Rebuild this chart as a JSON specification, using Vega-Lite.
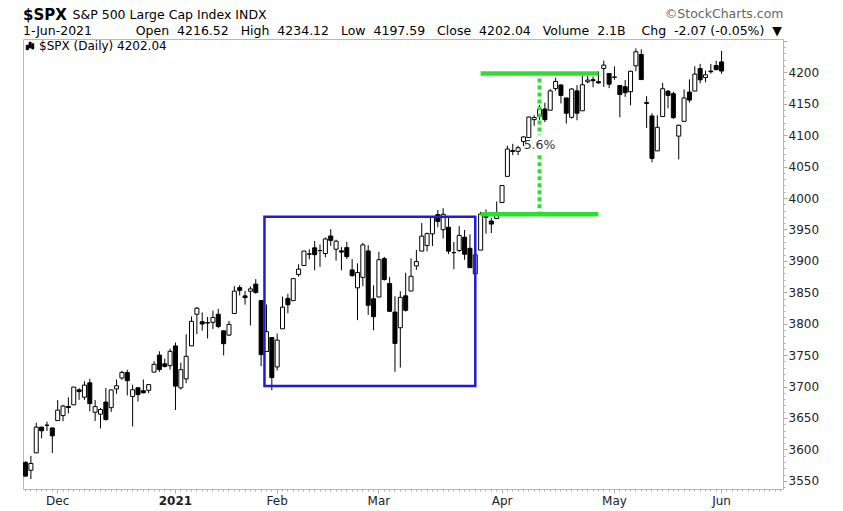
{
  "$schema": "https://vega.github.io/schema/vega-lite/v6.json",
  "width": 760,
  "height": 450,
  "autosize": {"type": "none"},
  "padding": {"left": 23, "top": 39, "right": 60, "bottom": 22},
  "background": "white",
  "title": {
    "text": "$SPX",
    "subtitle": "1-Jun-2021\u00a0\u00a0\u00a0\u00a0\u00a0\u00a0\u00a0\u00a0\u00a0\u00a0\u00a0Open\u00a0\u00a04216.52\u00a0\u00a0\u00a0High\u00a0\u00a04234.12\u00a0\u00a0\u00a0Low\u00a0\u00a04197.59\u00a0\u00a0\u00a0Close\u00a0\u00a04202.04\u00a0\u00a0\u00a0Volume\u00a0\u00a02.1B\u00a0\u00a0\u00a0\u00a0Chg\u00a0\u00a0-2.07 (-0.05%)\u00a0\u00a0▼",
    "anchor": "start",
    "frame": "group",
    "font": "DejaVu Sans",
    "fontSize": 15,
    "fontWeight": "bold",
    "color": "#000",
    "subtitleFont": "DejaVu Sans",
    "subtitleFontSize": 12.5,
    "subtitleColor": "#000",
    "subtitlePadding": 2,
    "offset": 2,
    "dy": 32
  },
  "config": {
    "view": {"stroke": "#b8b8b8", "strokeWidth": 1},
    "axis": {"grid": false, "domain": false, "labelOverlap": false}
  },
  "datasets": {
    "candles": [
      {"d":"2020-11-20","o":3579.31,"h":3581.23,"l":3556.85,"c":3557.54},
      {"d":"2020-11-23","o":3566.82,"h":3589.81,"l":3552.77,"c":3577.59},
      {"d":"2020-11-24","o":3594.52,"h":3642.31,"l":3594.52,"c":3635.41},
      {"d":"2020-11-25","o":3635.50,"h":3635.50,"l":3617.76,"c":3629.65},
      {"d":"2020-11-27","o":3638.55,"h":3644.31,"l":3629.33,"c":3638.35},
      {"d":"2020-11-30","o":3634.18,"h":3634.18,"l":3594.39,"c":3621.63},
      {"d":"2020-12-01","o":3645.87,"h":3678.45,"l":3645.87,"c":3662.45},
      {"d":"2020-12-02","o":3653.78,"h":3670.96,"l":3644.84,"c":3669.01},
      {"d":"2020-12-03","o":3668.28,"h":3682.73,"l":3657.17,"c":3666.72},
      {"d":"2020-12-04","o":3670.94,"h":3699.20,"l":3670.94,"c":3699.12},
      {"d":"2020-12-07","o":3694.73,"h":3697.41,"l":3678.88,"c":3691.96},
      {"d":"2020-12-08","o":3683.05,"h":3708.45,"l":3678.83,"c":3702.25},
      {"d":"2020-12-09","o":3705.98,"h":3712.39,"l":3660.54,"c":3672.82},
      {"d":"2020-12-10","o":3659.13,"h":3678.49,"l":3645.18,"c":3668.10},
      {"d":"2020-12-11","o":3656.08,"h":3665.91,"l":3633.40,"c":3663.46},
      {"d":"2020-12-14","o":3675.27,"h":3697.61,"l":3645.84,"c":3647.49},
      {"d":"2020-12-15","o":3666.41,"h":3695.29,"l":3659.62,"c":3694.62},
      {"d":"2020-12-16","o":3696.25,"h":3711.27,"l":3688.57,"c":3701.17},
      {"d":"2020-12-17","o":3713.65,"h":3725.12,"l":3710.87,"c":3722.48},
      {"d":"2020-12-18","o":3722.39,"h":3726.70,"l":3685.84,"c":3709.41},
      {"d":"2020-12-21","o":3684.28,"h":3702.90,"l":3636.48,"c":3694.92},
      {"d":"2020-12-22","o":3698.08,"h":3698.26,"l":3676.16,"c":3687.26},
      {"d":"2020-12-23","o":3693.42,"h":3711.24,"l":3689.28,"c":3690.01},
      {"d":"2020-12-24","o":3694.03,"h":3703.82,"l":3689.32,"c":3703.06},
      {"d":"2020-12-28","o":3723.03,"h":3740.51,"l":3723.03,"c":3735.36},
      {"d":"2020-12-29","o":3750.01,"h":3756.12,"l":3723.31,"c":3727.04},
      {"d":"2020-12-30","o":3736.19,"h":3744.63,"l":3730.21,"c":3732.04},
      {"d":"2020-12-31","o":3733.27,"h":3760.20,"l":3726.88,"c":3756.07},
      {"d":"2021-01-04","o":3764.61,"h":3769.99,"l":3662.71,"c":3700.65},
      {"d":"2021-01-05","o":3698.02,"h":3737.83,"l":3695.07,"c":3726.86},
      {"d":"2021-01-06","o":3712.20,"h":3783.04,"l":3705.34,"c":3748.14},
      {"d":"2021-01-07","o":3764.71,"h":3811.55,"l":3764.71,"c":3803.79},
      {"d":"2021-01-08","o":3815.05,"h":3826.69,"l":3783.60,"c":3824.68},
      {"d":"2021-01-11","o":3803.14,"h":3817.86,"l":3789.02,"c":3799.61},
      {"d":"2021-01-12","o":3801.62,"h":3810.78,"l":3776.51,"c":3801.19},
      {"d":"2021-01-13","o":3802.23,"h":3820.96,"l":3791.50,"c":3809.84},
      {"d":"2021-01-14","o":3814.98,"h":3823.60,"l":3792.86,"c":3795.54},
      {"d":"2021-01-15","o":3788.73,"h":3788.73,"l":3749.62,"c":3768.25},
      {"d":"2021-01-19","o":3781.88,"h":3804.53,"l":3780.37,"c":3798.91},
      {"d":"2021-01-20","o":3816.22,"h":3859.75,"l":3816.22,"c":3851.85},
      {"d":"2021-01-21","o":3857.46,"h":3861.45,"l":3845.05,"c":3853.07},
      {"d":"2021-01-22","o":3844.24,"h":3852.31,"l":3830.41,"c":3841.47},
      {"d":"2021-01-25","o":3851.68,"h":3859.23,"l":3797.16,"c":3855.36},
      {"d":"2021-01-26","o":3862.96,"h":3870.90,"l":3847.78,"c":3849.62},
      {"d":"2021-01-27","o":3836.83,"h":3836.83,"l":3732.48,"c":3750.77},
      {"d":"2021-01-28","o":3755.75,"h":3830.50,"l":3755.75,"c":3787.38},
      {"d":"2021-01-29","o":3778.05,"h":3778.05,"l":3694.12,"c":3714.24},
      {"d":"2021-02-01","o":3731.17,"h":3784.32,"l":3725.62,"c":3773.86},
      {"d":"2021-02-02","o":3791.84,"h":3843.09,"l":3791.84,"c":3826.31},
      {"d":"2021-02-03","o":3840.27,"h":3847.51,"l":3816.68,"c":3830.17},
      {"d":"2021-02-04","o":3836.66,"h":3872.42,"l":3836.66,"c":3871.74},
      {"d":"2021-02-05","o":3878.30,"h":3894.56,"l":3874.93,"c":3886.83},
      {"d":"2021-02-08","o":3892.59,"h":3915.77,"l":3892.59,"c":3915.59},
      {"d":"2021-02-09","o":3910.49,"h":3918.35,"l":3902.64,"c":3911.23},
      {"d":"2021-02-10","o":3920.78,"h":3931.50,"l":3884.94,"c":3909.88},
      {"d":"2021-02-11","o":3916.40,"h":3925.99,"l":3890.39,"c":3916.38},
      {"d":"2021-02-12","o":3911.65,"h":3937.23,"l":3905.78,"c":3934.83},
      {"d":"2021-02-16","o":3939.61,"h":3950.43,"l":3923.85,"c":3932.59},
      {"d":"2021-02-17","o":3918.50,"h":3933.61,"l":3900.43,"c":3931.33},
      {"d":"2021-02-18","o":3915.86,"h":3921.98,"l":3885.03,"c":3913.97},
      {"d":"2021-02-19","o":3921.16,"h":3930.41,"l":3903.07,"c":3906.71},
      {"d":"2021-02-22","o":3885.55,"h":3902.92,"l":3874.71,"c":3876.50},
      {"d":"2021-02-23","o":3857.07,"h":3895.98,"l":3805.59,"c":3881.37},
      {"d":"2021-02-24","o":3873.71,"h":3928.65,"l":3859.60,"c":3925.43},
      {"d":"2021-02-25","o":3915.80,"h":3925.02,"l":3814.04,"c":3829.34},
      {"d":"2021-02-26","o":3839.66,"h":3861.08,"l":3789.54,"c":3811.15},
      {"d":"2021-03-01","o":3842.51,"h":3914.50,"l":3842.51,"c":3901.82},
      {"d":"2021-03-02","o":3903.64,"h":3906.41,"l":3868.57,"c":3870.29},
      {"d":"2021-03-03","o":3863.99,"h":3874.47,"l":3818.86,"c":3819.72},
      {"d":"2021-03-04","o":3818.53,"h":3843.67,"l":3723.34,"c":3768.47},
      {"d":"2021-03-05","o":3793.58,"h":3851.69,"l":3730.19,"c":3841.94},
      {"d":"2021-03-08","o":3844.39,"h":3881.06,"l":3819.25,"c":3821.35},
      {"d":"2021-03-09","o":3851.93,"h":3903.76,"l":3851.93,"c":3875.44},
      {"d":"2021-03-10","o":3891.99,"h":3917.35,"l":3885.73,"c":3898.81},
      {"d":"2021-03-11","o":3915.54,"h":3960.27,"l":3915.54,"c":3939.34},
      {"d":"2021-03-12","o":3924.52,"h":3944.99,"l":3915.21,"c":3943.34},
      {"d":"2021-03-15","o":3942.96,"h":3970.08,"l":3923.54,"c":3968.94},
      {"d":"2021-03-16","o":3973.59,"h":3981.04,"l":3953.44,"c":3962.71},
      {"d":"2021-03-17","o":3949.57,"h":3983.87,"l":3935.74,"c":3974.12},
      {"d":"2021-03-18","o":3953.50,"h":3969.62,"l":3910.86,"c":3915.46},
      {"d":"2021-03-19","o":3913.14,"h":3930.12,"l":3886.75,"c":3913.10},
      {"d":"2021-03-22","o":3916.48,"h":3955.31,"l":3914.16,"c":3940.59},
      {"d":"2021-03-23","o":3937.60,"h":3949.13,"l":3901.78,"c":3910.52},
      {"d":"2021-03-24","o":3919.93,"h":3942.08,"l":3889.07,"c":3889.14},
      {"d":"2021-03-25","o":3879.34,"h":3919.54,"l":3853.50,"c":3909.52},
      {"d":"2021-03-26","o":3917.12,"h":3978.19,"l":3917.12,"c":3974.54},
      {"d":"2021-03-29","o":3969.31,"h":3981.83,"l":3943.25,"c":3971.09},
      {"d":"2021-03-30","o":3963.34,"h":3968.01,"l":3944.35,"c":3958.55},
      {"d":"2021-03-31","o":3967.25,"h":3994.41,"l":3966.98,"c":3972.89},
      {"d":"2021-04-01","o":3992.78,"h":4020.63,"l":3992.78,"c":4019.87},
      {"d":"2021-04-05","o":4034.44,"h":4083.42,"l":4034.44,"c":4077.91},
      {"d":"2021-04-06","o":4075.57,"h":4086.23,"l":4068.14,"c":4073.94},
      {"d":"2021-04-07","o":4074.29,"h":4083.13,"l":4068.31,"c":4079.95},
      {"d":"2021-04-08","o":4089.95,"h":4098.19,"l":4082.54,"c":4097.17},
      {"d":"2021-04-09","o":4096.11,"h":4129.48,"l":4095.51,"c":4128.80},
      {"d":"2021-04-12","o":4124.71,"h":4131.76,"l":4114.82,"c":4127.99},
      {"d":"2021-04-13","o":4130.10,"h":4148.00,"l":4124.43,"c":4141.59},
      {"d":"2021-04-14","o":4141.58,"h":4151.69,"l":4120.87,"c":4124.66},
      {"d":"2021-04-15","o":4139.76,"h":4173.49,"l":4139.76,"c":4170.42},
      {"d":"2021-04-16","o":4174.14,"h":4191.31,"l":4170.75,"c":4185.47},
      {"d":"2021-04-19","o":4179.80,"h":4180.81,"l":4150.47,"c":4163.26},
      {"d":"2021-04-20","o":4159.18,"h":4159.18,"l":4118.38,"c":4134.94},
      {"d":"2021-04-21","o":4128.42,"h":4175.02,"l":4126.35,"c":4173.42},
      {"d":"2021-04-22","o":4170.46,"h":4179.57,"l":4123.69,"c":4134.98},
      {"d":"2021-04-23","o":4138.78,"h":4194.17,"l":4138.78,"c":4180.17},
      {"d":"2021-04-26","o":4185.03,"h":4194.19,"l":4182.36,"c":4187.62},
      {"d":"2021-04-27","o":4188.25,"h":4193.35,"l":4176.22,"c":4186.72},
      {"d":"2021-04-28","o":4185.14,"h":4201.53,"l":4181.78,"c":4183.18},
      {"d":"2021-04-29","o":4206.14,"h":4218.78,"l":4176.81,"c":4211.47},
      {"d":"2021-04-30","o":4198.10,"h":4198.10,"l":4174.85,"c":4181.17},
      {"d":"2021-05-03","o":4191.98,"h":4209.39,"l":4188.03,"c":4192.66},
      {"d":"2021-05-04","o":4179.04,"h":4179.04,"l":4128.59,"c":4164.66},
      {"d":"2021-05-05","o":4177.06,"h":4187.72,"l":4160.94,"c":4167.59},
      {"d":"2021-05-06","o":4169.14,"h":4202.70,"l":4147.33,"c":4201.62},
      {"d":"2021-05-07","o":4210.34,"h":4238.04,"l":4201.64,"c":4232.60},
      {"d":"2021-05-10","o":4228.29,"h":4236.39,"l":4188.13,"c":4188.43},
      {"d":"2021-05-11","o":4150.34,"h":4162.04,"l":4111.53,"c":4152.10},
      {"d":"2021-05-12","o":4130.55,"h":4134.73,"l":4056.88,"c":4063.04},
      {"d":"2021-05-13","o":4074.99,"h":4131.58,"l":4074.99,"c":4112.50},
      {"d":"2021-05-14","o":4129.58,"h":4183.13,"l":4129.58,"c":4173.85},
      {"d":"2021-05-17","o":4169.92,"h":4171.92,"l":4142.69,"c":4163.29},
      {"d":"2021-05-18","o":4165.94,"h":4169.15,"l":4125.99,"c":4127.83},
      {"d":"2021-05-19","o":4098.45,"h":4116.93,"l":4061.41,"c":4115.68},
      {"d":"2021-05-20","o":4121.97,"h":4172.80,"l":4121.97,"c":4159.12},
      {"d":"2021-05-21","o":4168.61,"h":4188.72,"l":4151.72,"c":4155.86},
      {"d":"2021-05-24","o":4170.16,"h":4209.52,"l":4170.16,"c":4197.05},
      {"d":"2021-05-25","o":4205.94,"h":4213.42,"l":4182.52,"c":4188.13},
      {"d":"2021-05-26","o":4191.59,"h":4202.61,"l":4184.11,"c":4195.99},
      {"d":"2021-05-27","o":4201.94,"h":4213.38,"l":4197.78,"c":4200.88},
      {"d":"2021-05-28","o":4210.77,"h":4218.36,"l":4203.57,"c":4204.11},
      {"d":"2021-06-01","o":4216.52,"h":4234.12,"l":4197.59,"c":4202.04}
    ]
  },
  "layer": [
    {
      "data": {"name": "candles"},
      "mark": {"type": "rule", "strokeWidth": 1},
      "encoding": {
        "x": {
          "field": "d",
          "type": "ordinal",
          "scale": {
            "type": "band",
            "paddingInner": 0.25,
            "paddingOuter": 0.1,
            "domain": ["2020-11-20","2020-11-23","2020-11-24","2020-11-25","2020-11-27","2020-11-30",
              "2020-12-01","2020-12-02","2020-12-03","2020-12-04","2020-12-07","2020-12-08","2020-12-09","2020-12-10","2020-12-11","2020-12-14","2020-12-15","2020-12-16","2020-12-17","2020-12-18","2020-12-21","2020-12-22","2020-12-23","2020-12-24","2020-12-28","2020-12-29","2020-12-30","2020-12-31",
              "2021-01-04","2021-01-05","2021-01-06","2021-01-07","2021-01-08","2021-01-11","2021-01-12","2021-01-13","2021-01-14","2021-01-15","2021-01-19","2021-01-20","2021-01-21","2021-01-22","2021-01-25","2021-01-26","2021-01-27","2021-01-28","2021-01-29",
              "2021-02-01","2021-02-02","2021-02-03","2021-02-04","2021-02-05","2021-02-08","2021-02-09","2021-02-10","2021-02-11","2021-02-12","2021-02-16","2021-02-17","2021-02-18","2021-02-19","2021-02-22","2021-02-23","2021-02-24","2021-02-25","2021-02-26",
              "2021-03-01","2021-03-02","2021-03-03","2021-03-04","2021-03-05","2021-03-08","2021-03-09","2021-03-10","2021-03-11","2021-03-12","2021-03-15","2021-03-16","2021-03-17","2021-03-18","2021-03-19","2021-03-22","2021-03-23","2021-03-24","2021-03-25","2021-03-26","2021-03-29","2021-03-30","2021-03-31",
              "2021-04-01","2021-04-05","2021-04-06","2021-04-07","2021-04-08","2021-04-09","2021-04-12","2021-04-13","2021-04-14","2021-04-15","2021-04-16","2021-04-19","2021-04-20","2021-04-21","2021-04-22","2021-04-23","2021-04-26","2021-04-27","2021-04-28","2021-04-29","2021-04-30",
              "2021-05-03","2021-05-04","2021-05-05","2021-05-06","2021-05-07","2021-05-10","2021-05-11","2021-05-12","2021-05-13","2021-05-14","2021-05-17","2021-05-18","2021-05-19","2021-05-20","2021-05-21","2021-05-24","2021-05-25","2021-05-26","2021-05-27","2021-05-28",
              "2021-06-01","2021-06-02","2021-06-03","2021-06-04","2021-06-07","2021-06-08","2021-06-09","2021-06-10","2021-06-11","2021-06-14","2021-06-15","2021-06-16"]
          },
          "axis": {
            "title": "S&P 500 Large Cap Index INDX",
            "titleX": 49,
            "titleY": -471,
            "titleAlign": "left",
            "titleBaseline": "alphabetic",
            "titleAngle": 0,
            "titleFont": "DejaVu Sans",
            "titleFontSize": 12.5,
            "titleFontWeight": "normal",
            "titleColor": "#000",
            "labelExpr": "datum.value == '2020-12-01' ? 'Dec' : datum.value == '2021-01-04' ? '2021' : datum.value == '2021-02-01' ? 'Feb' : datum.value == '2021-03-01' ? 'Mar' : datum.value == '2021-04-01' ? 'Apr' : datum.value == '2021-05-03' ? 'May' : datum.value == '2021-06-01' ? 'Jun' : ''",
            "labelAngle": 0,
            "labelOverlap": false,
            "labelFlush": false,
            "labelFont": "DejaVu Sans",
            "labelFontSize": 12,
            "labelColor": "#222",
            "labelPadding": 2,
            "labelFontWeight": {"condition": {"test": "datum.value == '2021-01-04'", "value": "bold"}, "value": "normal"},
            "tickSize": {"condition": {"test": "indexof(['2020-12-01','2021-01-04','2021-02-01','2021-03-01','2021-04-01','2021-05-03','2021-06-01'], datum.value) >= 0", "value": 4}, "value": 2},
            "tickColor": "#aaa",
            "domain": false,
            "grid": false
          }
        },
        "y": {
          "field": "l",
          "type": "quantitative",
          "scale": {"domain": [3537, 4253], "nice": false, "zero": false},
          "axis": {
            "orient": "right",
            "values": [3540,3550,3560,3570,3580,3590,3600,3610,3620,3630,3640,3650,3660,3670,3680,3690,3700,3710,3720,3730,3740,3750,3760,3770,3780,3790,3800,3810,3820,3830,3840,3850,3860,3870,3880,3890,3900,3910,3920,3930,3940,3950,3960,3970,3980,3990,4000,4010,4020,4030,4040,4050,4060,4070,4080,4090,4100,4110,4120,4130,4140,4150,4160,4170,4180,4190,4200,4210,4220,4230,4240,4250],
            "tickCount": 500,
            "labelExpr": "(datum.value % 50 == 0 && datum.value <= 4200) ? format(datum.value, 'd') : ''",
            "labelOverlap": false,
            "labelFont": "DejaVu Sans",
            "labelFontSize": 12,
            "labelColor": "#222",
            "labelPadding": 1,
            "tickSize": {"condition": {"test": "datum.value % 50 == 0", "value": 4}, "value": 2},
            "tickColor": "#aaa",
            "title": "©StockCharts.com",
            "titleAngle": 0,
            "titleX": 0,
            "titleY": -22,
            "titleAlign": "right",
            "titleBaseline": "alphabetic",
            "titleFont": "DejaVu Sans",
            "titleFontSize": 12.5,
            "titleFontWeight": "normal",
            "titleColor": "#666",
            "domain": false,
            "grid": false
          }
        },
        "y2": {"field": "h"},
        "stroke": {
          "datum": "$SPX (Daily) 4202.04",
          "type": "nominal",
          "scale": {"range": ["#000"]},
          "legend": {
            "orient": "top-left",
            "offset": 1,
            "title": null,
            "padding": 0,
            "symbolType": "M-1,-0.2H-0.45V1H-1Z M-0.25,-1H0.3V0.5H-0.25Z M0.5,-0.6H1V0.8H0.5Z",
            "symbolSize": 55,
            "symbolFillColor": "#000",
            "symbolStrokeColor": "#000",
            "symbolStrokeWidth": 1,
            "labelFont": "DejaVu Sans",
            "labelFontSize": 12,
            "labelColor": "#000",
            "labelOffset": 3
          }
        }
      }
    },
    {
      "data": {"name": "candles"},
      "mark": {"type": "bar", "stroke": "#000", "strokeWidth": 1},
      "encoding": {
        "x": {"field": "d", "type": "ordinal"},
        "y": {"field": "o", "type": "quantitative"},
        "y2": {"field": "c"},
        "fill": {"condition": {"test": "datum.c < datum.o", "value": "#000"}, "value": "#fff"}
      }
    },
    {
      "data": {"values": [{"start": "2021-01-28", "end": "2021-03-25", "bottom": 3701, "top": 3970}]},
      "mark": {"type": "rect", "fill": null, "fillOpacity": 0, "stroke": "#1c1cdc", "strokeWidth": 2.5},
      "encoding": {
        "x": {"field": "start", "type": "ordinal", "bandPosition": 0},
        "x2": {"field": "end"},
        "y": {"field": "bottom", "type": "quantitative"},
        "y2": {"field": "top"}
      }
    },
    {
      "data": {"values": [{"start": "2021-03-26", "end": "2021-04-28", "level": 4198}, {"start": "2021-03-26", "end": "2021-04-28", "level": 3974}]},
      "mark": {"type": "rule", "stroke": "#30dc30", "strokeWidth": 4.5},
      "encoding": {
        "x": {"field": "start", "type": "ordinal"},
        "x2": {"field": "end"},
        "y": {"field": "level", "type": "quantitative"}
      }
    },
    {
      "data": {"values": [{"date": "2021-04-13", "from": 4190, "to": 4100}, {"date": "2021-04-13", "from": 4068, "to": 3978}]},
      "mark": {"type": "rule", "stroke": "#30dc30", "strokeWidth": 4, "strokeDash": [4, 3]},
      "encoding": {
        "x": {"field": "date", "type": "ordinal"},
        "y": {"field": "from", "type": "quantitative"},
        "y2": {"field": "to"}
      }
    },
    {
      "data": {"values": [{"date": "2021-04-13", "value": 4085, "label": "5.6%"}]},
      "mark": {"type": "text", "font": "DejaVu Sans", "fontSize": 12.5, "color": "#333", "align": "center", "baseline": "middle"},
      "encoding": {
        "x": {"field": "date", "type": "ordinal"},
        "y": {"field": "value", "type": "quantitative"},
        "text": {"field": "label"}
      }
    }
  ]
}
